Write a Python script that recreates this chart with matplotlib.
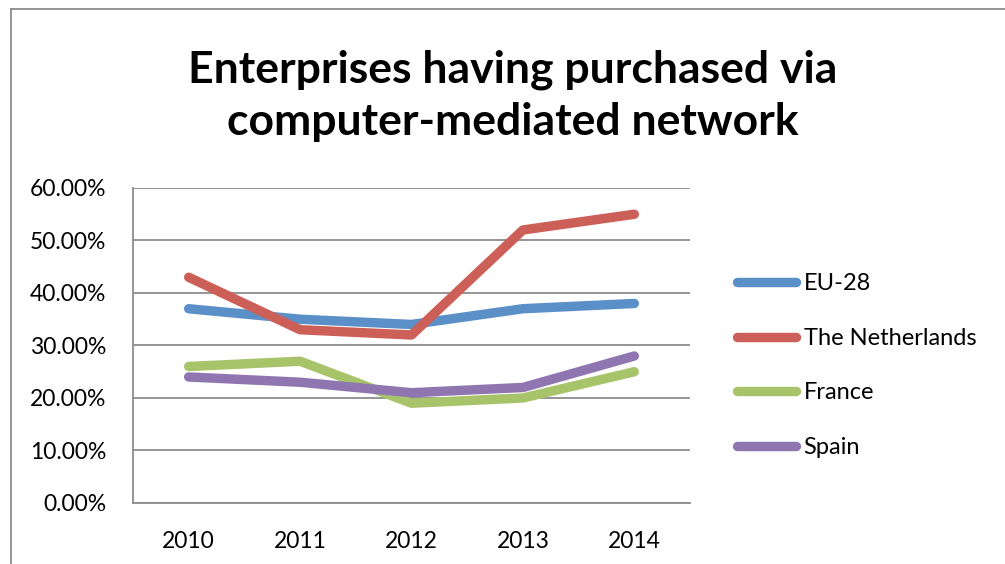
"""Enterprises having purchased via computer-mediated network, 2010-2014."""

import matplotlib.pyplot as plt
from matplotlib.lines import Line2D
from matplotlib.ticker import FuncFormatter

YEARS = ["2010", "2011", "2012", "2013", "2014"]
EU28 = [37, 35, 34, 37, 38]
NETHERLANDS = [43, 33, 32, 52, 55]
FRANCE = [26, 27, 19, 20, 25]
SPAIN = [24, 23, 21, 22, 28]

SERIES = [
    ("EU-28", EU28, "#5a8fc8"),
    ("The Netherlands", NETHERLANDS, "#cc6058"),
    ("France", FRANCE, "#a8c46a"),
    ("Spain", SPAIN, "#8f76b0"),
]

plt.rcParams["font.family"] = ["Lato", "DejaVu Sans"]

fig = plt.figure(figsize=(10.05, 5.64), dpi=100)
ax = fig.add_axes([0.1323, 0.1082, 0.5543, 0.5585])

x = range(len(YEARS))
for name, values, color in SERIES:
    ax.plot(x, values, color=color, linewidth=6.8, solid_capstyle="round",
            solid_joinstyle="round", label=name)

ax.set_xlim(-0.5, len(YEARS) - 0.5)
ax.set_ylim(0, 60)
ax.set_yticks(range(0, 61, 10))
ax.yaxis.set_major_formatter(FuncFormatter(lambda v, _: f"{v:.2f}%"))
ax.set_xticks(list(x))
ax.set_xticklabels(YEARS)
ax.tick_params(axis="both", length=0, labelsize=16.5)
ax.tick_params(axis="y", pad=19)
ax.tick_params(axis="x", pad=20)
ax.grid(axis="y", color="#8c8c8c", linewidth=1.3)
ax.set_axisbelow(True)
for side in ("top", "right"):
    ax.spines[side].set_visible(False)
for side in ("left", "bottom"):
    ax.spines[side].set_color("#8c8c8c")
    ax.spines[side].set_linewidth(1.3)

ax.legend(loc="center left", bbox_to_anchor=(1.047, 0.436), frameon=False,
          fontsize=17, handlelength=2.5, handletextpad=0.3, labelspacing=1.42)

fig.text(0.51, 0.83, "Enterprises having purchased via\ncomputer-mediated network",
         ha="center", va="center", fontsize=32, fontweight="bold", linespacing=1.36)

# outer chart frame
fig.add_artist(Line2D([0.0105, 0.0105], [0, 1 - 9 / 564], color="#8c8c8c", linewidth=1.3))
fig.add_artist(Line2D([0.0105, 1], [1 - 9 / 564, 1 - 9 / 564], color="#8c8c8c", linewidth=1.3))

fig.savefig("out.png", dpi=100)
